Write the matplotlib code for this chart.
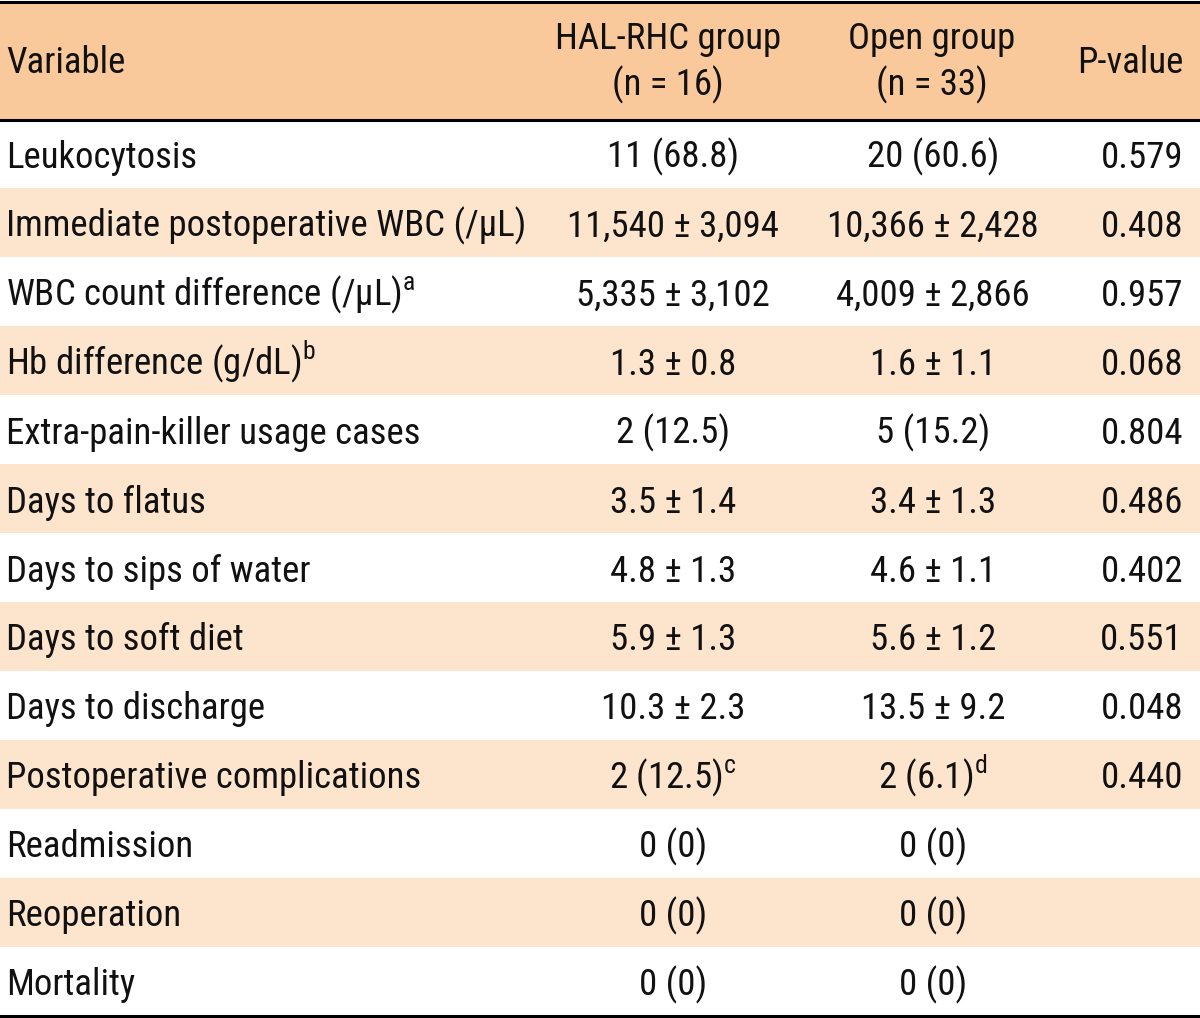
import matplotlib
matplotlib.use("Agg")
import matplotlib.pyplot as plt
from matplotlib import font_manager as fm

headers = ["Variable", "HAL-RHC group\n(n = 16)", "Open group\n(n = 33)", "P-value"]
variables = [
    "Leukocytosis",
    "Immediate postoperative WBC (/μL)",
    "WBC count difference (/μL)$^{\\mathregular{a}}$",
    "Hb difference (g/dL)$^{\\mathregular{b}}$",
    "Extra-pain-killer usage cases",
    "Days to flatus",
    "Days to sips of water",
    "Days to soft diet",
    "Days to discharge",
    "Postoperative complications",
    "Readmission",
    "Reoperation",
    "Mortality",
]
hal_rhc = [
    "11 (68.8)", "11,540 ± 3,094", "5,335 ± 3,102", "1.3 ± 0.8", "2 (12.5)",
    "3.5 ± 1.4", "4.8 ± 1.3", "5.9 ± 1.3", "10.3 ± 2.3", "2 (12.5)$^{\\mathregular{c}}$",
    "0 (0)", "0 (0)", "0 (0)",
]
open_group = [
    "20 (60.6)", "10,366 ± 2,428", "4,009 ± 2,866", "1.6 ± 1.1", "5 (15.2)",
    "3.4 ± 1.3", "4.6 ± 1.1", "5.6 ± 1.2", "13.5 ± 9.2", "2 (6.1)$^{\\mathregular{d}}$",
    "0 (0)", "0 (0)", "0 (0)",
]
p_values = ["0.579", "0.408", "0.957", "0.068", "0.804", "0.486", "0.402",
            "0.551", "0.048", "0.440", "", "", ""]

available = {f.name for f in fm.fontManager.ttflist}
preferred = ["Roboto Condensed", "Archivo Narrow", "PT Sans Narrow",
             "IBM Plex Sans Condensed", "Open Sans Condensed", "DejaVu Sans"]
main_font = next(f for f in preferred if f in available)
plt.rcParams['font.family'] = [main_font, 'DejaVu Sans']
plt.rcParams['mathtext.fontset'] = 'custom'
plt.rcParams['mathtext.rm'] = main_font

W, H = 1200, 1018
fig = plt.figure(figsize=(W / 100, H / 100), dpi=100)
ax = fig.add_axes([0, 0, 1, 1])
ax.set_xlim(0, W)
ax.set_ylim(H, 0)
ax.axis("off")

HEADER_BG = "#F9C99C"
ROW_BG = "#FDE4CD"
header_top, header_bot = 1.5, 119.5
table_bot = 1015.5
n = len(variables)
row_h = (table_bot - header_bot) / n

ax.axhspan(header_top, header_bot, color=HEADER_BG, lw=0)
for i in range(n):
    if i % 2 == 1:
        ax.axhspan(header_bot + i * row_h, header_bot + (i + 1) * row_h, color=ROW_BG, lw=0)

ax.axhline(header_top, color="black", lw=2.2)
ax.axhline(header_bot, color="black", lw=2.2)
ax.axhline(table_bot, color="black", lw=2.2)

fs = 26.5
kw = dict(fontsize=fs, va="baseline", color="#111111")

# header
header_x = [(6, "left"), (668, "center"), (932, "center"), (1130, "center")]
for (x, ha), label in zip(header_x, headers):
    parts = label.split("\n")
    if len(parts) == 1:
        ax.text(x, 73, parts[0], ha=ha, **kw)
    else:
        ax.text(x, 49, parts[0], ha=ha, **kw)
        ax.text(x, 95, parts[1], ha=ha, **kw)

for i in range(n):
    yb = header_bot + (i + 0.5) * row_h + 14
    ax.text(6, yb, variables[i], ha="left", **kw)
    ax.text(673, yb, hal_rhc[i], ha="center", **kw)
    ax.text(933, yb, open_group[i], ha="center", **kw)
    ax.text(1183, yb, p_values[i], ha="right", **kw)

fig.savefig("out.png", dpi=100)
